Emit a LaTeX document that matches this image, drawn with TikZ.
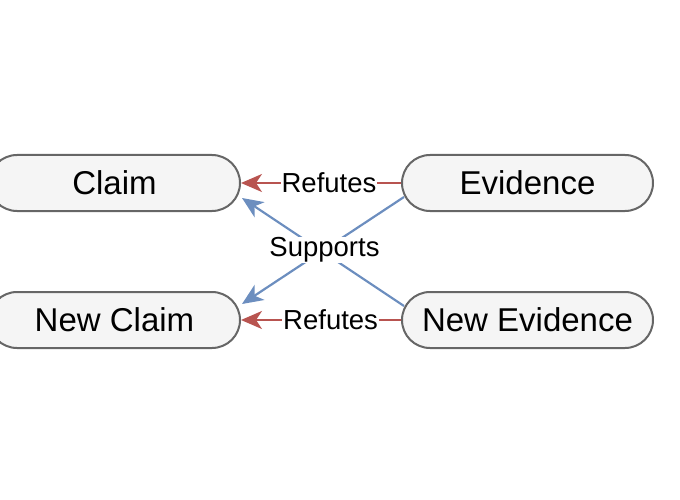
\documentclass[tikz,border=0pt]{standalone}
\usepackage{fontspec}
\setmainfont{Liberation Sans}
\usetikzlibrary{arrows.meta,calc}
\definecolor{boxfill}{HTML}{F5F5F5}
\definecolor{boxline}{HTML}{666666}
\definecolor{redline}{HTML}{B85450}
\definecolor{blueline}{HTML}{6C8EBF}
\tikzset{
  pill/.style={draw=boxline, fill=boxfill, line width=2pt, rounded corners=28pt,
    minimum width=251pt, minimum height=56pt, inner sep=0pt,
    font=\fontsize{33}{40}\selectfont},
  refedge/.style={draw=redline, line width=2.2pt,
    -{Stealth[length=21pt,width=18pt,inset=6pt]}},
  supedge/.style={draw=blueline, line width=2.2pt,
    -{Stealth[length=21pt,width=18pt,inset=6pt]}},
  elabel/.style={fill=white, inner sep=1pt, font=\fontsize{27.5}{32}\selectfont},
}
\begin{document}
\begin{tikzpicture}[x=1pt,y=-1pt]
\useasboundingbox (0,0) rectangle (680,500);
\node[pill] (claim) at (114.5,183) {Claim};
\node[pill] (ev) at (527.5,183) {Evidence};
\node[pill] (nclaim) at (114.5,320) {New Claim};
\node[pill] (nev) at (527.5,320) {New Evidence};
% supports edges
\draw[supedge] ($(ev.west)+(3,14)$) -- ($(nclaim.east)+(1,-16)$);
\draw[supedge] ($(nev.west)+(3,-14)$) -- ($(claim.east)+(1,15)$);
\node[elabel] (sup) at (324.5,250) {Supports};
% refutes edges
\draw[refedge] (ev.west) -- node[elabel, pos=0.45] (r1) {Refutes} (claim.east);
\draw[refedge] (nev.west) -- node[elabel, pos=0.44] (r2) {Refutes} (nclaim.east);
\end{tikzpicture}
\end{document}
